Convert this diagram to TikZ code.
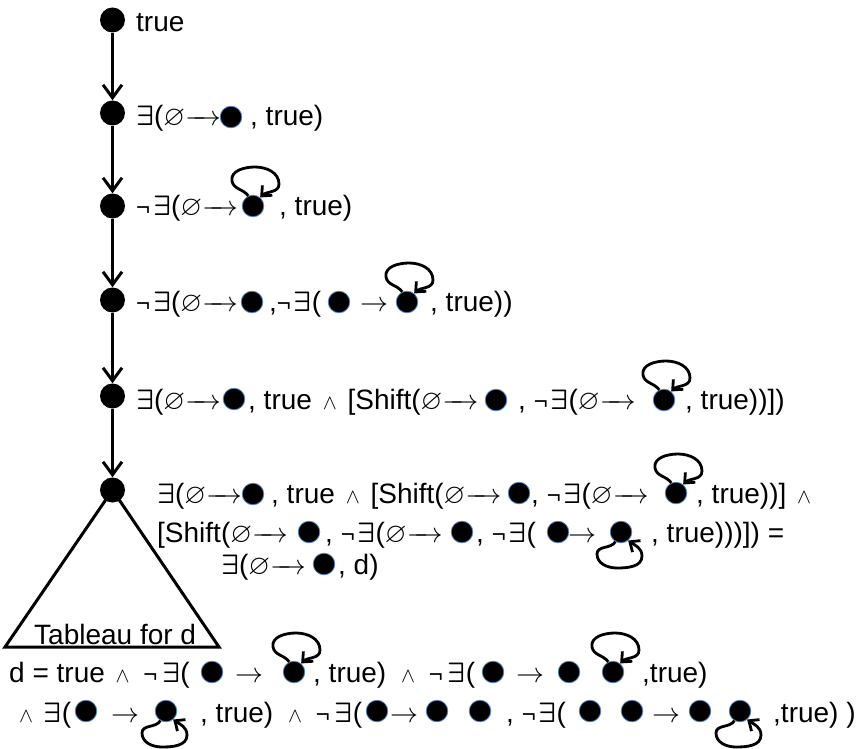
\RequirePackage{fix-cm}
\documentclass[tikz,border=0pt]{standalone}
\usepackage{fontspec}
\usepackage{amssymb}
\setmainfont{Liberation Sans}
\usetikzlibrary{arrows.meta,calc}
\definecolor{ringblue}{RGB}{79,129,189}
% symbols used in the formulas
\newcommand\fex{{\boldmath$\exists$}}
\newcommand\fes{$\varnothing$}
\newcommand\flar{$\relbar\mkern-9mu\rightarrow$}
\newcommand\frar{$\rightarrow$}
\newcommand\fneg{{\fontsize{24}{24}\selectfont ¬}\hspace{3pt}}
\newcommand\fand{\hspace{3pt}{\fontsize{21}{21}\selectfont$\wedge$}\hspace{3pt}}
% self-loops on a graph dot, above and below
\newcommand\looptop[1]{\draw[loopar] (#1.115) to[out=125,in=-80] ($(#1)+(-21,25)$) to[out=100,in=180] ($(#1)+(2,39)$) to[out=0,in=90] ($(#1)+(26,22)$) to[out=-90,in=45] (#1.50);}
\newcommand\loopbot[1]{\draw[loopar] (#1.240) to[out=240,in=90] ($(#1)+(-24,-22)$) to[out=-90,in=180] ($(#1)+(-4,-36)$) to[out=0,in=-90] ($(#1)+(21,-24)$) to[out=90,in=-35] (#1.310);}
\begin{document}
\begin{tikzpicture}[x=1pt,y=1pt,
  txt/.style={anchor=base west,inner sep=0pt,font=\fontsize{28}{34}\selectfont},
  bigdot/.style={circle,fill=black,minimum size=25pt,inner sep=0pt},
  gd/.style={circle,fill=black,draw=ringblue,line width=0.8pt,minimum size=21.5pt,inner sep=0pt},
  flow/.style={line width=3pt,-{Straight Barb[length=13pt,width=19pt]}},
  loopar/.style={line width=2.8pt,-{Straight Barb[length=8pt,width=14pt]}},
  tri/.style={line width=3pt,line join=miter}]
\useasboundingbox (0,0) rectangle (867,-749);

% tableau spine
\node[bigdot] (b1) at (112.5,-20) {};
\node[bigdot] (b2) at (112.5,-113) {};
\node[bigdot] (b3) at (112.5,-206) {};
\node[bigdot] (b4) at (112.5,-300) {};
\node[bigdot] (b5) at (112.5,-396) {};
\node[bigdot] (b6) at (112.5,-490) {};

% formula 1
\node[txt] (t1) at (136,-32) {true};

% formula 2
\node[txt] (t2a) at (136,-125) {\fex(\fes\flar};
\node[gd] (g2) at (231,-117) {};
\node[txt] (t2b) at (250,-125) {, true)};

% formula 3
\node[txt] (t3a) at (136,-215) {\fneg\fex(\fes\flar};
\node[gd] (g3) at (253,-206) {};
\node[txt] (t3b) at (279,-215) {, true)};

% formula 4
\node[txt] (t4a) at (136,-311) {\fneg\fex(\fes\flar};
\node[gd] (g4a) at (252,-302) {};
\node[txt] (t4b) at (269,-311) {,\fneg\fex(};
\node[gd] (g4b) at (339,-302) {};
\node[txt] (t4c) at (360,-311) {\frar};
\node[gd] (g4c) at (407,-302) {};
\node[txt] (t4d) at (430,-311) {, true))};

% formula 5
\node[txt] (t5a) at (136,-409) {\fex(\fes\flar};
\node[gd] (g5a) at (234,-399) {};
\node[txt] (t5b) at (248,-409) {, true \fand{} [Shift(\fes\flar};
\node[gd] (g5b) at (496,-400) {};
\node[txt] (t5c) at (518,-409) {, \fneg\fex(\fes\flar};
\node[gd] (g5c) at (664,-400) {};
\node[txt] (t5d) at (685,-409) {, true))])};

% formula 6, three lines
\node[txt] (t6a) at (157,-503) {\fex(\fes\flar};
\node[gd] (g6a) at (253,-494) {};
\node[txt] (t6b) at (271,-503) {, true \fand{} [Shift(\fes\flar};
\node[gd] (g6b) at (519,-493) {};
\node[txt] (t6c) at (531,-503) {, \fneg\fex(\fes\flar};
\node[gd] (g6c) at (676,-493) {};
\node[txt] (t6d) at (696,-503) {, true))] \fand};

\node[txt] (t6e) at (157,-542) {[Shift(\fes\flar};
\node[gd] (g6d) at (309,-532) {};
\node[txt] (t6f) at (325,-542) {, \fneg\fex(\fes\flar};
\node[gd] (g6e) at (462,-532) {};
\node[txt] (t6g) at (476,-542) {, \fneg\fex(};
\node[gd] (g6f) at (558,-532) {};
\node[txt] (t6h) at (568,-542) {\frar};
\node[gd] (g6g) at (621,-532) {};
\node[txt] (t6i) at (651,-542) {, true)))]) =};

\node[txt] (t6j) at (221,-574) {\fex(\fes\flar};
\node[gd] (g6h) at (324,-564) {};
\node[txt] (t6k) at (338,-574) {, d)};

% sub-tableau
\coordinate (tl) at (5,-647);
\coordinate (tr) at (219,-647);
\node[txt] (tab) at (34,-644) {Tableau for d};

% definition of d
\node[txt] (t7a) at (9,-682) {d = true \fand{} \hspace{3pt}\fneg\hspace{2pt}\fex(};
\node[gd] (g7a) at (212,-672) {};
\node[txt] (t7b) at (235,-682) {\frar};
\node[gd] (g7b) at (294,-672) {};
\node[txt] (t7c) at (313,-682) {, true) \hspace{4pt}\fand{} \hspace{3pt}\fneg\hspace{2pt}\fex(};
\node[gd] (g7c) at (493,-672) {};
\node[txt] (t7d) at (516,-682) {\frar};
\node[gd] (g7d) at (569,-672) {};
\node[gd] (g7e) at (613,-672) {};
\node[txt] (t7e) at (642,-682) {,true)};

\node[txt] (t8a) at (16,-722) {\fand{} \fex(};
\node[gd] (g8a) at (86,-711) {};
\node[txt] (t8b) at (111,-722) {\frar};
\node[gd] (g8b) at (166,-711) {};
\node[txt] (t8c) at (200,-722) {, true) \hspace{4pt}\fand{} \hspace{3pt}\fneg\hspace{2pt}\fex(};
\node[gd] (g8c) at (377,-711) {};
\node[txt] (t8d) at (390,-722) {\frar};
\node[gd] (g8d) at (437,-711) {};
\node[gd] (g8e) at (480,-711) {};
\node[txt] (t8e) at (506,-722) {, \fneg\fex(};
\node[gd] (g8f) at (590,-711) {};
\node[gd] (g8g) at (632,-711) {};
\node[txt] (t8f) at (652,-722) {\frar};
\node[gd] (g8h) at (700,-711) {};
\node[gd] (g8i) at (740,-711) {};
\node[txt] (t8g) at (773,-722) {,true) )};

% spine arrows and triangle
\draw[flow] (b1.south) -- (b2.north);
\draw[flow] (b2.south) -- (b3.north);
\draw[flow] (b3.south) -- (b4.north);
\draw[flow] (b4.south) -- (b5.north);
\draw[flow] (b5.south) -- (b6.north);
\draw[tri] (b6.center) -- (tl) -- (tr) -- cycle;

% self-loops
\looptop{g3}
\looptop{g4c}
\looptop{g5c}
\looptop{g6c}
\looptop{g7b}
\looptop{g7e}
\loopbot{g6g}
\loopbot{g8b}
\loopbot{g8i}
\end{tikzpicture}
\end{document}
